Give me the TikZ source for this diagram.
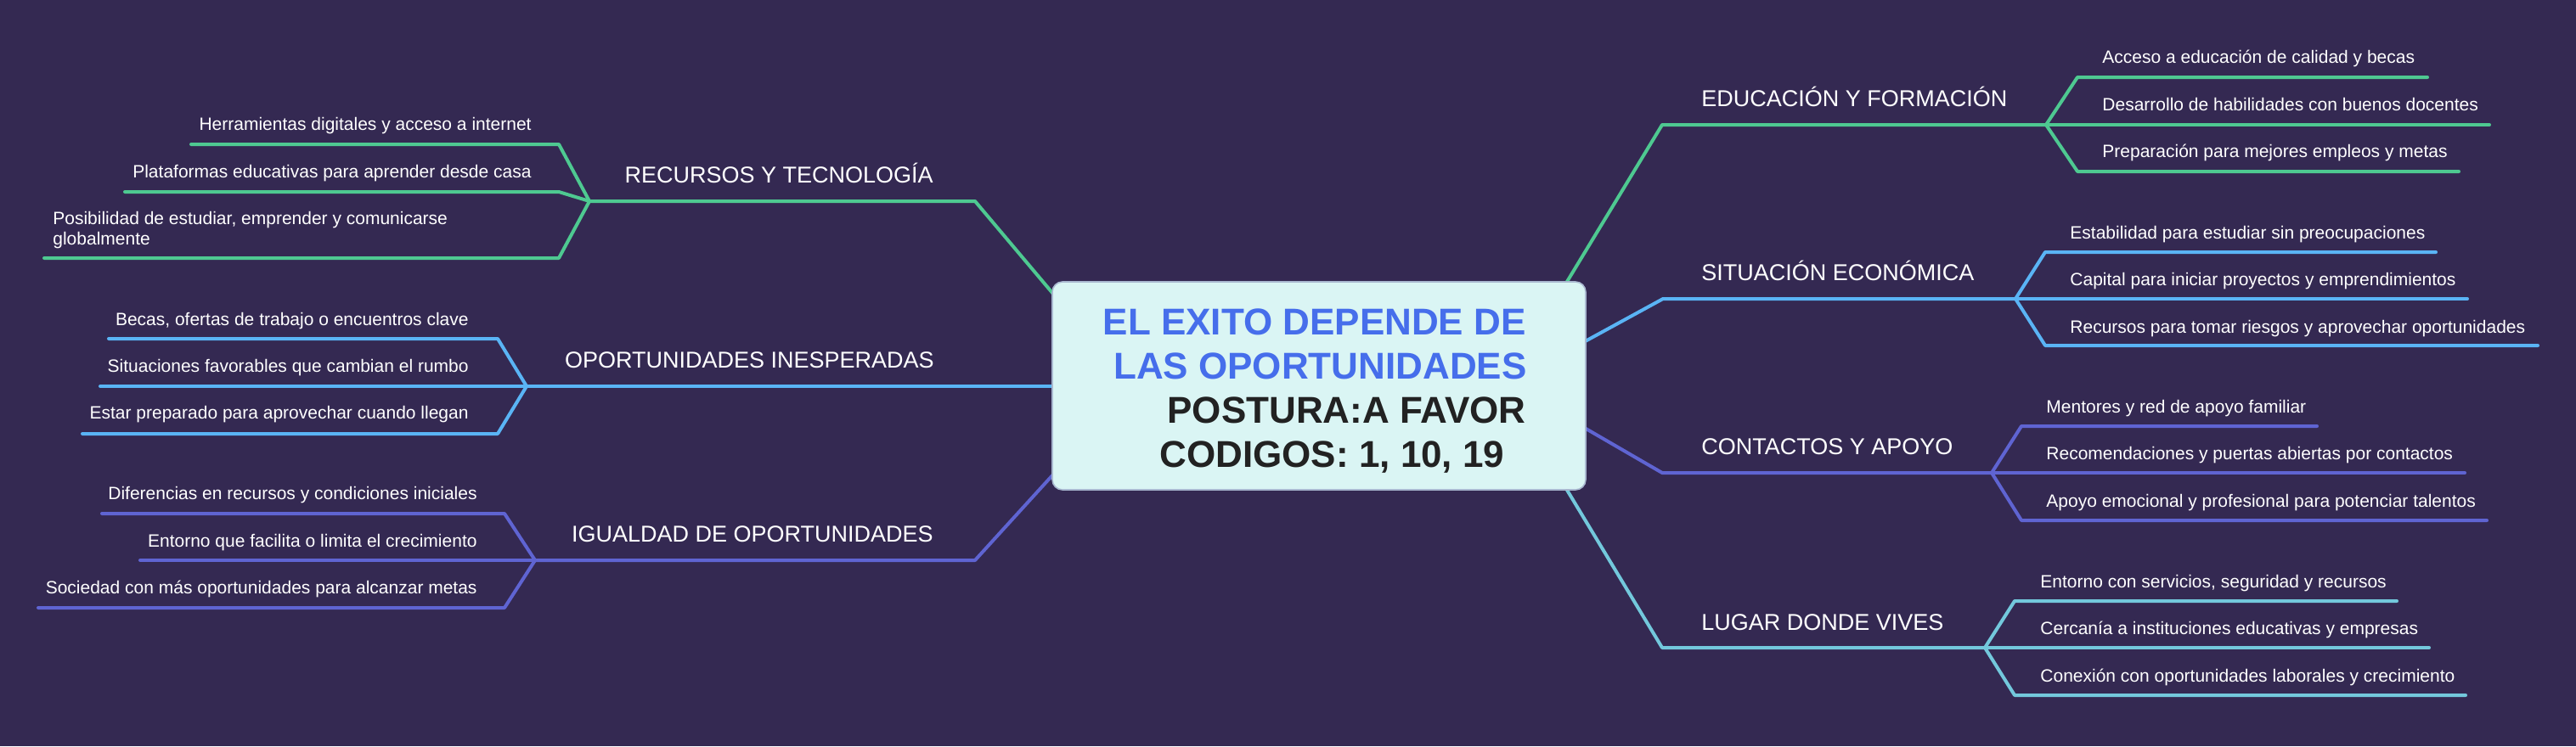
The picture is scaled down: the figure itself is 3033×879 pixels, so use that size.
\documentclass[tikz,border=0pt]{standalone}
\usepackage{fontspec}
\setmainfont{Liberation Sans}
\definecolor{bg}{HTML}{342952}
\definecolor{cgreen}{HTML}{4EC991}
\definecolor{cblue}{HTML}{5AB4F5}
\definecolor{cindigo}{HTML}{5F64D2}
\definecolor{ccyan}{HTML}{73C8DC}
\definecolor{boxfill}{HTML}{DAF5F4}
\definecolor{boxline}{HTML}{A9B8D0}
\definecolor{titleblue}{HTML}{466EEB}
\definecolor{darktext}{HTML}{222222}
\begin{document}
\begin{tikzpicture}[x=0.5pt,y=-0.5pt,
  leaf/.style={font=\fontsize{10.5}{12.5}\selectfont, text=white, inner sep=0pt},
  topic/.style={font=\fontsize{13.5}{16}\selectfont, text=white, inner sep=0pt},
  ctitle/.style={font=\fontsize{22}{26}\selectfont\bfseries, inner sep=0pt},
  conn/.style={line width=2pt, line cap=round, line join=round}]
\path[fill=bg] (0,0) rectangle (3033,879);
\useasboundingbox (0,0) rectangle (3033,879);

% ---------- coordinates ----------
% Educacion
\coordinate (eS) at (1837,345); \coordinate (eA) at (1957,147); \coordinate (eF) at (2409,147);
\coordinate (e1a) at (2446,91); \coordinate (e1b) at (2858,91);
\coordinate (e2b) at (2931,147);
\coordinate (e3a) at (2446,202); \coordinate (e3b) at (2895,202);
% Situacion
\coordinate (sS) at (1850,411); \coordinate (sA) at (1958,352); \coordinate (sF) at (2373,352);
\coordinate (s1a) at (2408,297); \coordinate (s1b) at (2868,297);
\coordinate (s2b) at (2905,352);
\coordinate (s3a) at (2408,407); \coordinate (s3b) at (2988,407);
% Contactos
\coordinate (cS) at (1850,495); \coordinate (cA) at (1957,557); \coordinate (cF) at (2345,557);
\coordinate (c1a) at (2380,502); \coordinate (c1b) at (2728,502);
\coordinate (c2b) at (2902,557);
\coordinate (c3a) at (2380,613); \coordinate (c3b) at (2928,613);
% Lugar
\coordinate (lS) at (1837,564); \coordinate (lA) at (1957,763); \coordinate (lF) at (2337,763);
\coordinate (l1a) at (2372,708); \coordinate (l1b) at (2822,708);
\coordinate (l2b) at (2860,763);
\coordinate (l3a) at (2372,819); \coordinate (l3b) at (2903,819);
% Recursos
\coordinate (rS) at (1250,358); \coordinate (rA) at (1148,237); \coordinate (rF) at (694,237);
\coordinate (r1a) at (658,170); \coordinate (r1b) at (225,170);
\coordinate (r2a) at (658,226); \coordinate (r2b) at (147,226);
\coordinate (r3a) at (658,304); \coordinate (r3b) at (52,304);
% Oportunidades
\coordinate (oS) at (1250,455); \coordinate (oF) at (620,455);
\coordinate (o1a) at (586,399); \coordinate (o1b) at (128,399);
\coordinate (o2b) at (118,455);
\coordinate (o3a) at (586,511); \coordinate (o3b) at (97,511);
% Igualdad
\coordinate (iS) at (1250,548); \coordinate (iA) at (1148,660); \coordinate (iF) at (630,660);
\coordinate (i1a) at (594,605); \coordinate (i1b) at (120,605);
\coordinate (i2b) at (165,660);
\coordinate (i3a) at (594,716); \coordinate (i3b) at (45,716);

% ---------- connectors ----------
\draw[conn,cgreen] (eS) -- (eA) -- (eF);
\draw[conn,cgreen] (eF) -- (e1a) -- (e1b);
\draw[conn,cgreen] (eF) -- (e2b);
\draw[conn,cgreen] (eF) -- (e3a) -- (e3b);

\draw[conn,cblue] (sS) -- (sA) -- (sF);
\draw[conn,cblue] (sF) -- (s1a) -- (s1b);
\draw[conn,cblue] (sF) -- (s2b);
\draw[conn,cblue] (sF) -- (s3a) -- (s3b);

\draw[conn,cindigo] (cS) -- (cA) -- (cF);
\draw[conn,cindigo] (cF) -- (c1a) -- (c1b);
\draw[conn,cindigo] (cF) -- (c2b);
\draw[conn,cindigo] (cF) -- (c3a) -- (c3b);

\draw[conn,ccyan] (lS) -- (lA) -- (lF);
\draw[conn,ccyan] (lF) -- (l1a) -- (l1b);
\draw[conn,ccyan] (lF) -- (l2b);
\draw[conn,ccyan] (lF) -- (l3a) -- (l3b);

\draw[conn,cgreen] (rS) -- (rA) -- (rF);
\draw[conn,cgreen] (rF) -- (r1a) -- (r1b);
\draw[conn,cgreen] (rF) -- (r2a) -- (r2b);
\draw[conn,cgreen] (rF) -- (r3a) -- (r3b);

\draw[conn,cblue] (oS) -- (oF);
\draw[conn,cblue] (oF) -- (o1a) -- (o1b);
\draw[conn,cblue] (oF) -- (o2b);
\draw[conn,cblue] (oF) -- (o3a) -- (o3b);

\draw[conn,cindigo] (iS) -- (iA) -- (iF);
\draw[conn,cindigo] (iF) -- (i1a) -- (i1b);
\draw[conn,cindigo] (iF) -- (i2b);
\draw[conn,cindigo] (iF) -- (i3a) -- (i3b);

% ---------- central box ----------
\node[draw=boxline, line width=0.8pt, fill=boxfill, rounded corners=6pt, minimum width=314pt, minimum height=122.5pt, inner sep=0pt] (center) at (1553,454.5) {};
\node[ctitle, text=titleblue, anchor=base east] (t1) at (1797,394) {EL EXITO DEPENDE DE};
\node[ctitle, text=titleblue, anchor=base east] (t2) at (1798,446) {LAS OPORTUNIDADES};
\node[ctitle, text=darktext, anchor=base east] (t3) at (1797,498) {POSTURA:A FAVOR};
\node[ctitle, text=darktext, anchor=base west] (t4) at (1365,550) {CODIGOS: 1, 10, 19};

% ---------- topic labels ----------
\node[topic, anchor=base west] (edu) at (2003,125) {EDUCACIÓN Y FORMACIÓN};
\node[topic, anchor=base west] (sit) at (2003,330) {SITUACIÓN ECONÓMICA};
\node[topic, anchor=base west] (con) at (2003,535) {CONTACTOS Y APOYO};
\node[topic, anchor=base west] (lug) at (2003,742) {LUGAR DONDE VIVES};
\node[topic, anchor=base east] (rec) at (1099,215) {RECURSOS Y TECNOLOGÍA};
\node[topic, anchor=base east] (opo) at (1100,433) {OPORTUNIDADES INESPERADAS};
\node[topic, anchor=base east] (igu) at (1099,638) {IGUALDAD DE OPORTUNIDADES};

% ---------- leaves ----------
\node[leaf, anchor=base west] (e1) at (2475,74) {Acceso a educación de calidad y becas};
\node[leaf, anchor=base west] (e2) at (2475,130) {Desarrollo de habilidades con buenos docentes};
\node[leaf, anchor=base west] (e3) at (2475,185) {Preparación para mejores empleos y metas};

\node[leaf, anchor=base west] (s1) at (2437,281) {Estabilidad para estudiar sin preocupaciones};
\node[leaf, anchor=base west] (s2) at (2437,336) {Capital para iniciar proyectos y emprendimientos};
\node[leaf, anchor=base west] (s3) at (2437,392) {Recursos para tomar riesgos y aprovechar oportunidades};

\node[leaf, anchor=base west] (c1) at (2409,486) {Mentores y red de apoyo familiar};
\node[leaf, anchor=base west] (c2) at (2409,541) {Recomendaciones y puertas abiertas por contactos};
\node[leaf, anchor=base west] (c3) at (2409,597) {Apoyo emocional y profesional para potenciar talentos};

\node[leaf, anchor=base west] (l1) at (2402,692) {Entorno con servicios, seguridad y recursos};
\node[leaf, anchor=base west] (l2) at (2402,747) {Cercanía a instituciones educativas y empresas};
\node[leaf, anchor=base west] (l3) at (2402,803) {Conexión con oportunidades laborales y crecimiento};

\node[leaf, anchor=base east] (r1) at (626,153) {Herramientas digitales y acceso a internet};
\node[leaf, anchor=base east] (r2) at (626,209) {Plataformas educativas para aprender desde casa};
\node[leaf, anchor=base west] (r3) at (62,264) {Posibilidad de estudiar, emprender y comunicarse};
\node[leaf, anchor=base west] (r3b) at (62,288) {globalmente};

\node[leaf, anchor=base east] (o1) at (552,383) {Becas, ofertas de trabajo o encuentros clave};
\node[leaf, anchor=base east] (o2) at (552,438) {Situaciones favorables que cambian el rumbo};
\node[leaf, anchor=base east] (o3) at (552,493) {Estar preparado para aprovechar cuando llegan};

\node[leaf, anchor=base east] (i1) at (562,588) {Diferencias en recursos y condiciones iniciales};
\node[leaf, anchor=base east] (i2) at (562,644) {Entorno que facilita o limita el crecimiento};
\node[leaf, anchor=base east] (i3) at (562,699) {Sociedad con más oportunidades para alcanzar metas};
\end{tikzpicture}
\end{document}
